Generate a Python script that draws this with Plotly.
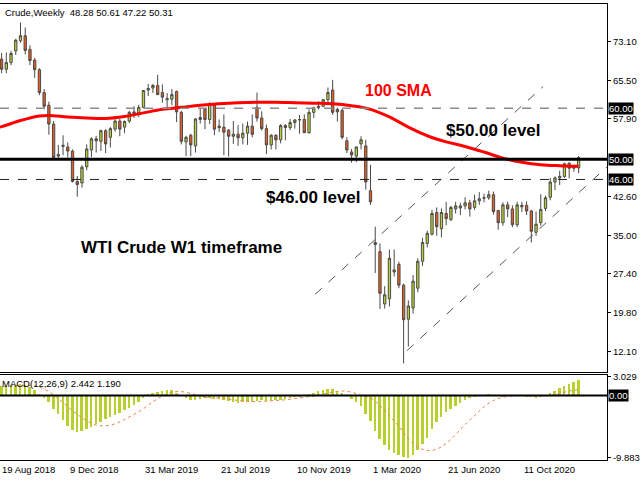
import plotly.graph_objects as go

# ---------------- data (weekly candles, week 0 = 19 Aug 2018) ----------------
opens = [65.9, 68.7, 69.7, 67.7, 69.0, 71.3, 73.3, 74.3, 71.6, 69.5,
         67.6, 63.1, 60.6, 56.9, 50.6, 52.5, 52.4, 51.6, 45.6, 45.3,
         48.5, 51.8, 54.0, 53.5, 55.6, 54.3, 55.9, 57.5, 56.3, 57.5,
         59.3, 59.0, 60.2, 63.6, 64.0, 64.5, 63.1, 61.7, 61.8, 63.3,
         59.2, 53.4, 54.7, 52.6, 57.8, 59.8, 57.8, 60.8, 56.5, 56.3,
         55.7, 54.5, 54.9, 54.2, 55.1, 56.5, 60.2, 58.1, 56.0, 52.8,
         54.7, 53.8, 56.6, 56.2, 57.2, 57.7, 57.8, 55.2, 59.2, 60.1,
         60.4, 61.7, 63.6, 59.8, 59.6, 53.6, 51.4, 50.6, 53.0, 52.6,
         43.8, 33.2, 31.8, 21.5, 22.5, 27.8, 29.3, 25.2, 18.5, 20.7,
         24.6, 29.9, 33.4, 35.2, 39.5, 36.3, 39.3, 38.1, 40.2, 40.4,
         40.8, 41.4, 40.5, 41.8, 42.3, 42.4, 43.0, 39.9, 37.5, 41.0,
         40.2, 37.1, 40.6, 40.9, 39.8, 35.6, 37.5, 40.3, 42.5, 45.5,
         46.3, 46.6, 49.2, 48.2, 48.28]
highs = [69.0, 70.3, 70.9, 71.0, 71.3, 73.7, 76.9, 75.9, 72.4, 69.9,
         67.9, 63.8, 61.3, 57.5, 52.8, 54.7, 53.3, 51.9, 46.7, 48.8,
         52.9, 54.3, 54.6, 55.8, 55.9, 56.3, 57.8, 57.9, 57.6, 59.5,
         60.4, 60.7, 63.6, 64.8, 64.8, 66.6, 64.7, 63.0, 63.8, 63.5,
         59.5, 54.6, 55.0, 58.1, 60.1, 60.0, 61.2, 61.0, 57.8, 58.8,
         55.9, 57.5, 56.7, 57.0, 57.4, 58.8, 63.1, 59.4, 56.8, 54.9,
         54.9, 56.9, 56.9, 57.9, 57.9, 58.7, 58.8, 59.8, 60.3, 61.4,
         61.8, 64.1, 65.6, 60.1, 59.9, 54.3, 52.0, 52.5, 54.5, 53.8,
         48.9, 36.7, 33.4, 25.0, 32.2, 32.2, 29.8, 25.5, 22.2, 27.2,
         30.5, 34.5, 35.9, 40.0, 40.5, 40.3, 41.6, 40.8, 41.6, 41.4,
         42.5, 42.0, 43.0, 43.5, 43.2, 43.8, 43.6, 40.0, 41.5, 41.6,
         40.9, 41.6, 41.6, 41.7, 40.0, 39.7, 43.1, 42.8, 46.3, 46.6,
         47.7, 49.3, 49.4, 48.9, 50.61]
lows = [65.6, 68.2, 66.9, 66.9, 68.5, 70.5, 72.9, 70.6, 68.5, 66.0,
        62.6, 59.8, 54.8, 50.2, 49.9, 50.8, 50.3, 45.4, 42.6, 44.4,
        47.8, 50.4, 51.3, 51.6, 51.2, 52.3, 55.4, 54.5, 55.1, 57.1,
        58.1, 58.3, 60.0, 62.4, 63.0, 62.6, 61.1, 60.0, 60.6, 57.3,
        52.9, 50.6, 50.6, 51.3, 57.0, 55.9, 56.9, 54.7, 55.3, 50.8,
        50.5, 53.0, 52.6, 52.9, 52.8, 54.3, 57.4, 55.6, 51.0, 51.9,
        51.9, 53.1, 53.7, 55.7, 56.0, 55.0, 55.2, 55.0, 58.1, 59.8,
        60.3, 60.6, 58.7, 57.4, 53.9, 51.2, 49.3, 49.4, 51.9, 44.0,
        41.0, 27.6, 20.5, 20.6, 21.0, 26.9, 24.6, 9.8, 13.1, 19.6,
        23.8, 29.0, 32.6, 35.0, 34.9, 34.6, 37.0, 37.8, 39.3, 39.0,
        40.1, 38.7, 40.0, 41.0, 41.5, 42.0, 39.1, 36.1, 36.9, 38.6,
        36.6, 36.6, 39.6, 39.0, 33.6, 34.9, 36.9, 39.8, 41.9, 43.9,
        44.9, 46.3, 46.2, 47.5, 47.22]
closes = [68.7, 69.8, 67.7, 69.0, 70.8, 73.4, 74.3, 71.4, 69.4, 67.6,
          63.1, 60.4, 56.9, 50.3, 50.9, 52.7, 51.6, 45.6, 45.0, 48.4,
          52.0, 54.0, 53.6, 55.6, 53.0, 56.0, 57.5, 55.9, 57.4, 59.2,
          59.0, 60.2, 63.5, 63.9, 64.5, 62.7, 62.2, 61.9, 62.7, 59.3,
          53.5, 54.3, 52.8, 57.9, 58.2, 57.8, 60.9, 55.9, 56.2, 55.3,
          54.5, 54.9, 54.2, 55.1, 56.5, 54.9, 58.1, 56.0, 52.8, 54.7,
          53.8, 56.6, 56.2, 57.2, 57.7, 57.8, 55.2, 59.2, 60.1, 60.4,
          61.7, 63.1, 59.2, 59.3, 54.3, 51.8, 50.8, 52.4, 53.8, 45.5,
          41.6, 33.6, 23.6, 23.3, 30.5, 28.2, 25.2, 18.4, 21.1, 26.0,
          29.9, 33.6, 35.4, 39.3, 36.7, 39.5, 38.3, 40.5, 40.8, 40.8,
          41.4, 40.2, 41.8, 42.2, 42.4, 43.0, 39.7, 37.5, 41.0, 40.2,
          37.1, 41.0, 40.9, 39.8, 35.8, 37.2, 40.1, 42.4, 45.5, 46.3,
          46.6, 49.1, 48.2, 48.5, 50.31]
weeks = list(range(len(opens)))

# 100-period SMA (week, value)
sma_weeks = [0, 2, 6, 10, 12, 16, 20, 24, 28, 32, 36, 40, 44, 48, 52, 56, 60,
             64, 68, 72, 76, 80, 84, 88, 92, 96, 100, 104, 108, 112, 116, 120, 124]
sma_values = [56.0, 56.4, 57.6, 58.5, 58.6, 58.3, 58.1, 58.0, 58.4, 59.1, 59.8,
              60.2, 60.6, 60.9, 61.1, 61.2, 61.2, 61.1, 61.0, 60.9, 60.5, 59.8,
              58.3, 56.3, 54.6, 53.4, 52.5, 51.4, 50.2, 49.4, 48.9, 48.7, 48.6]

# MACD(12,26,9) main histogram (one per week) and signal line samples
macd_main = [1.3, 1.4, 1.5, 1.5, 1.6, 1.7, 1.8, 1.7, 1.4, 0.9,
             0.3, -0.4, -1.0, -2.0, -2.9, -3.8, -4.7, -5.4, -5.7, -5.6,
             -5.3, -4.9, -4.5, -4.1, -3.6, -3.3, -3.0, -2.7, -2.3, -1.9,
             -1.4, -1.0, -0.3, 0.2, 0.4, 0.6, 0.8, 0.9, 0.9, 0.5,
             0.1, -0.4, -0.6, -0.6, -0.5, -0.3, -0.3, -0.5, -0.5, -0.6,
             -0.8, -1.0, -1.1, -1.0, -1.0, -0.9, -0.8, -0.7, -0.8, -0.8,
             -0.7, -0.6, -0.5, -0.4, -0.2, -0.1, 0.0, 0.3, 0.5, 0.7,
             0.9, 1.1, 1.1, 0.8, 0.4, 0.0, -0.5, -1.0, -1.6, -2.8,
             -4.0, -5.5, -6.9, -7.8, -8.5, -9.0, -9.4, -9.6, -9.8, -9.3,
             -8.6, -7.6, -6.6, -5.3, -4.2, -3.4, -2.6, -2.1, -1.6, -1.1,
             -0.7, -0.4, -0.2, 0.0, 0.1, 0.2, 0.1, 0.0, -0.1, 0.0,
             0.0, 0.1, 0.0, -0.1, -0.2, -0.3, -0.2, 0.0, 0.4, 0.8,
             1.2, 1.6, 1.9, 2.2, 2.442]
signal_weeks = list(range(0, 125, 2)) + [124]
signal_values = [1.2, 1.4, 1.5, 1.6, 1.6, 1.3, 0.6, -0.5, -1.8, -3.0,
                 -4.0, -4.7, -4.8, -4.5, -3.8, -3.0, -2.1, -1.0, -0.1, 0.5,
                 0.6, 0.3, -0.1, -0.4, -0.4, -0.6, -0.8, -0.9, -1.0, -0.9,
                 -0.8, -0.7, -0.5, -0.3, -0.1, 0.2, 0.5, 0.7, 0.5, 0.0,
                 -0.4, -1.6, -3.2, -4.9, -6.8, -8.2, -8.7, -8.5, -7.6, -6.2,
                 -4.6, -3.2, -1.8, -0.8, -0.3, -0.1, 0.0, -0.1, -0.1, 0.0,
                 0.3, 0.7, 1.0, 1.19]

date_tick_weeks = [0, 16, 32, 48, 64, 80, 96, 112]
date_tick_labels = ["19 Aug 2018", "9 Dec 2018", "31 Mar 2019", "21 Jul 2019",
                    "10 Nov 2019", "1 Mar 2020", "21 Jun 2020", "11 Oct 2020"]
price_ticks = [73.10, 65.50, 57.90, 42.60, 35.00, 27.40, 19.80, 12.10]
macd_ticks = [3.029, -9.883]
level_values = [60.0, 50.0, 46.0]

channel_upper_weeks = [68.3, 116.5]
channel_upper_prices = [23.4, 64.3]
channel_lower_weeks = [87.7, 130.0]
channel_lower_prices = [12.3, 48.5]

# ---------------- figure ----------------
X0, X1 = 1.667, 130.0
FONT = "Liberation Sans"
BULL = "#bad232"
BEAR = "#ee5a1c"
WICK = "#4a4a4a"

fig = go.Figure()
fig.add_trace(go.Candlestick(
    x=weeks, open=opens, high=highs, low=lows, close=closes,
    increasing=dict(line=dict(color=WICK, width=1), fillcolor=BULL),
    decreasing=dict(line=dict(color=WICK, width=1), fillcolor=BEAR),
    whiskerwidth=0, showlegend=False, hoverinfo="skip", xaxis="x", yaxis="y"))

fig.add_trace(go.Scatter(x=sma_weeks, y=sma_values, mode="lines",
                         line=dict(color="#ff0000", width=3, shape="spline"),
                         showlegend=False, hoverinfo="skip", xaxis="x", yaxis="y"))

for wx, py in ((channel_upper_weeks, channel_upper_prices),
               (channel_lower_weeks, channel_lower_prices)):
    fig.add_trace(go.Scatter(x=wx, y=py, mode="lines",
                             line=dict(color="#555555", width=1, dash="dash"),
                             showlegend=False, hoverinfo="skip", xaxis="x", yaxis="y"))

fig.add_trace(go.Bar(x=weeks, y=macd_main, marker=dict(color="#b8d02e", line=dict(width=0)),
                     width=0.42, showlegend=False, hoverinfo="skip", xaxis="x2", yaxis="y2"))
fig.add_trace(go.Scatter(x=signal_weeks, y=signal_values, mode="lines",
                         line=dict(color="#f08050", width=1, dash="dot", shape="spline"),
                         showlegend=False, hoverinfo="skip", xaxis="x2", yaxis="y2"))

shapes = []
shapes.append(dict(type="line", xref="x domain", yref="y", x0=0, x1=1,
                   y0=level_values[0], y1=level_values[0],
                   line=dict(color="#8c8c8c", width=1.5, dash="dash")))
shapes.append(dict(type="line", xref="x domain", yref="y", x0=0, x1=1,
                   y0=level_values[1], y1=level_values[1],
                   line=dict(color="#000000", width=3)))
shapes.append(dict(type="line", xref="x domain", yref="y", x0=0, x1=1,
                   y0=level_values[2], y1=level_values[2],
                   line=dict(color="#222222", width=1, dash="dash")))
shapes.append(dict(type="line", xref="x2 domain", yref="y2", x0=0, x1=1, y0=0, y1=0,
                   line=dict(color="#000000", width=2)))

ann = []
for lv in level_values:
    ann.append(dict(xref="paper", yref="y", x=1, y=lv, xanchor="left", xshift=1,
                    text=f"{lv:.2f}", showarrow=False, bgcolor="#000000",
                    font=dict(color="#ffffff", size=9.5, family=FONT), borderpad=0))
ann.append(dict(xref="paper", yref="y2", x=1, y=0, xanchor="left", xshift=1,
                text="0.00", showarrow=False, bgcolor="#000000",
                font=dict(color="#ffffff", size=9.5, family=FONT), borderpad=0))
for w, lab in zip(date_tick_weeks, date_tick_labels):
    xp = max((w - X0) / (X1 - X0), 0.0)
    ann.append(dict(xref="paper", yref="paper", x=xp, y=0,
                    xanchor="left", yanchor="top", yshift=-2, text=lab, showarrow=False,
                    font=dict(color="#000000", size=9.5, family=FONT)))
ann.append(dict(xref="paper", yref="paper", x=0, y=1, xanchor="left", yanchor="top",
                xshift=3, yshift=-1, text="Crude,Weekly  48.28 50.61 47.22 50.31",
                showarrow=False, font=dict(color="#000000", size=9.5, family=FONT)))
ann.append(dict(xref="paper", yref="y2 domain", x=0, y=1, xanchor="left", yanchor="top",
                xshift=0, yshift=-1, text="MACD(12,26,9) 2.442 1.190",
                showarrow=False, font=dict(color="#000000", size=9.5, family=FONT)))
ann.append(dict(xref="x", yref="y", x=86.0, y=63.5, text="<b>100 SMA</b>", showarrow=False,
                font=dict(color="#ff0000", size=16, family=FONT)))
ann.append(dict(xref="x", yref="y", x=106.0, y=55.7, text="<b>$50.00 level</b>", showarrow=False,
                font=dict(color="#000000", size=17, family=FONT)))
ann.append(dict(xref="x", yref="y", x=67.9, y=42.4, text="<b>$46.00 level</b>", showarrow=False,
                font=dict(color="#000000", size=17, family=FONT)))
ann.append(dict(xref="x", yref="y", x=40.0, y=32.6, text="<b>WTI Crude W1 timeframe</b>",
                showarrow=False, font=dict(color="#000000", size=17, family=FONT)))

axis_font = dict(color="#000000", size=9.5, family=FONT)
fig.update_layout(
    width=640, height=480,
    margin=dict(l=0, r=24, t=1, b=20),
    paper_bgcolor="#ffffff", plot_bgcolor="#ffffff",
    showlegend=False, bargap=0,
    xaxis=dict(range=[X0, X1], domain=[0, 1], anchor="y", showgrid=False, zeroline=False,
               showticklabels=False, ticks="", showline=True, mirror=True,
               linecolor="#000000", linewidth=1, rangeslider=dict(visible=False)),
    xaxis2=dict(range=[X0, X1], domain=[0, 1], anchor="y2", matches="x", showgrid=False,
                zeroline=False, showticklabels=False, ticks="", showline=True, mirror=True,
                linecolor="#000000", linewidth=1),
    yaxis=dict(range=[8.19, 80.53], domain=[0.1939, 1], side="right", anchor="x",
               showgrid=False, zeroline=False, showline=True, linecolor="#000000",
               tickmode="array", tickvals=price_ticks,
               ticktext=[f"{v:.2f}" for v in price_ticks],
               ticks="outside", ticklen=3, tickcolor="#000000", tickfont=axis_font),
    yaxis2=dict(range=[-10.22, 3.30], domain=[0, 0.1874], side="right", anchor="x2",
                showgrid=False, zeroline=False, showline=True, linecolor="#000000",
                tickmode="array", tickvals=macd_ticks,
                ticktext=[f"{v:.3f}" for v in macd_ticks],
                ticks="outside", ticklen=3, tickcolor="#000000", tickfont=axis_font),
    shapes=shapes, annotations=ann,
)

fig.write_html("out.html", config={"displayModeBar": False},
               post_script="document.body.style.margin='0';")
